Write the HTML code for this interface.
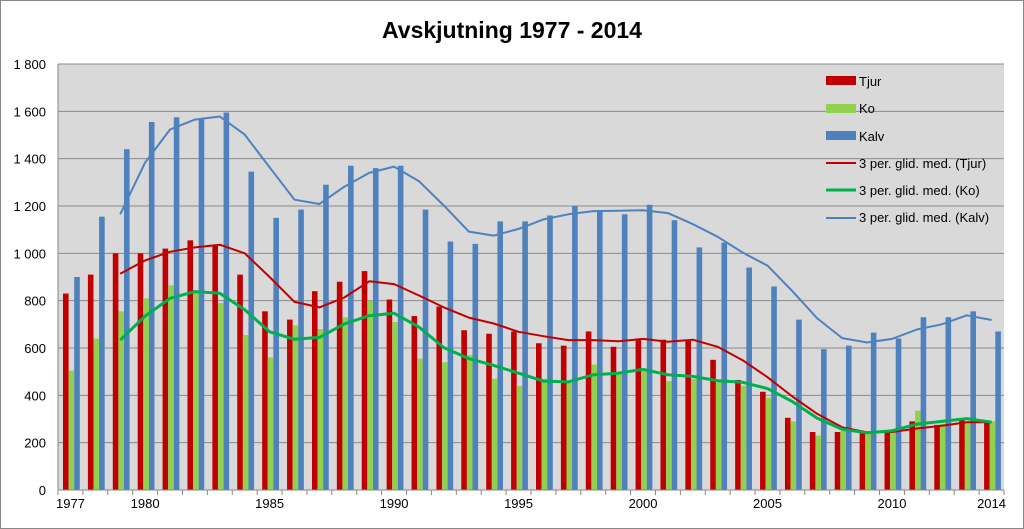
<!DOCTYPE html>
<html><head><meta charset="utf-8"><style>
body{margin:0;background:#fff;font-family:"Liberation Sans",sans-serif}
svg{display:block}
</style></head><body>
<svg width="1024" height="529" viewBox="0 0 1024 529" xmlns="http://www.w3.org/2000/svg" id="chart">
<rect x="0.5" y="0.5" width="1023" height="528" fill="#fff" stroke="#888"/>
<text x="512" y="38" text-anchor="middle" font-size="23" font-weight="bold" fill="#000">Avskjutning 1977 - 2014</text>
<rect x="58" y="64" width="946" height="426" fill="#d9d9d9"/>
<g id="grid"></g><g id="bars"></g><g id="lines"></g><g id="axes"></g>
<g font-size="13" fill="#000">
<rect x="826" y="76" width="30" height="9" fill="#c00000"/>
<text x="859" y="86">Tjur</text>
<rect x="826" y="104" width="30" height="9" fill="#92d050"/>
<text x="859" y="113">Ko</text>
<rect x="826" y="131" width="30" height="9" fill="#4f81bd"/>
<text x="859" y="141">Kalv</text>
<line x1="826" y1="163" x2="856" y2="163" stroke="#c00000" stroke-width="2"/>
<text x="859" y="168">3 per. glid. med. (Tjur)</text>
<line x1="826" y1="190" x2="856" y2="190" stroke="#00b050" stroke-width="3"/>
<text x="859" y="195">3 per. glid. med. (Ko)</text>
<line x1="826" y1="218" x2="856" y2="218" stroke="#4f81bd" stroke-width="2"/>
<text x="859" y="222">3 per. glid. med. (Kalv)</text>
</g>
</svg>
<script>
const years=[1977,1978,1979,1980,1981,1982,1983,1984,1985,1986,1987,1988,1989,1990,1991,1992,1993,1994,1995,1996,1997,1998,1999,2000,2001,2002,2003,2004,2005,2006,2007,2008,2009,2010,2011,2012,2013,2014];
const tjur=[830,910,1000,1000,1020,1055,1035,910,755,720,840,880,925,805,735,775,675,660,670,620,610,670,605,640,635,630,550,465,415,305,245,245,240,250,290,275,295,290];
const ko=[505,640,755,810,865,840,790,655,560,695,680,730,800,710,555,540,570,470,440,470,460,530,490,510,460,470,455,440,390,290,230,250,245,255,335,280,290,290];
const kalv=[900,1155,1440,1555,1575,1565,1595,1345,1150,1185,1290,1370,1360,1370,1185,1050,1040,1135,1135,1160,1200,1175,1165,1205,1140,1025,1045,940,860,720,595,610,665,640,730,730,755,670];
const yTicks=[0,200,400,600,800,1000,1200,1400,1600,1800];
const yTickLabels=["0","200","400","600","800","1 000","1 200","1 400","1 600","1 800"];
const xLabelYears=[1977,1980,1985,1990,1995,2000,2005,2010,2014];
const NS="http://www.w3.org/2000/svg";
const L=58,R=1004,T=64,B=490,maxV=1800;
const gw=(R-L)/years.length;
const y=v=>B-(v/maxV)*(B-T);
const xg=i=>L+i*gw;
function mk(tag,attrs,parent){const e=document.createElementNS(NS,tag);for(const k in attrs)e.setAttribute(k,attrs[k]);parent.appendChild(e);return e;}
const grid=document.getElementById('grid'),bars=document.getElementById('bars'),lines=document.getElementById('lines'),axes=document.getElementById('axes');
yTicks.forEach((t,i)=>{
 if(t>0){const g=mk('line',{x1:L,x2:R,y1:y(t),y2:y(t),stroke:'#8a8a8a','stroke-width':1},grid);
 
 }
 const tx=mk('text',{x:L-12,y:y(t)+5,'text-anchor':'end','font-size':13,fill:'#000'},axes);
 tx.textContent=yTickLabels[i];
 
 
});
const series=[[tjur,'#c00000','tjur'],[ko,'#92d050','ko'],[kalv,'#4f81bd','kalv']];
const bw=5.6,off=5;
years.forEach((yr,i)=>{
 series.forEach((s,j)=>{
  const v=s[0][i];
  const r=mk('rect',{x:xg(i)+off+j*bw,y:y(v),width:bw,height:B-y(v),fill:s[1]},bars);
  
  
 });
});
const maStyles=[['#c00000',2],['#00b050',3],['#4f81bd',2]];
series.forEach((s,j)=>{
 const pts=[];
 for(let i=2;i<years.length;i++){const m=(s[0][i]+s[0][i-1]+s[0][i-2])/3;pts.push((xg(i)+gw/2).toFixed(1)+','+y(m).toFixed(1));}
 const p=mk('polyline',{points:pts.join(' '),fill:'none',stroke:maStyles[j][0],'stroke-width':maStyles[j][1],'stroke-linejoin':'round'},lines);
 
 
});
const ax=mk('line',{x1:L,x2:R,y1:B,y2:B,stroke:'#888'},axes);


const ay=mk('line',{x1:L,x2:L,y1:T,y2:B,stroke:'#888'},axes);


for(let i=0;i<=years.length;i++){
 const t=mk('line',{x1:xg(i),x2:xg(i),y1:B,y2:B+5,stroke:'#888'},axes);
 
 
}
xLabelYears.forEach(yr=>{
 const i=years.indexOf(yr);
 const tx=mk('text',{x:xg(i)+gw/2,y:B+18,'text-anchor':'middle','font-size':13,fill:'#000'},axes);
 tx.textContent=yr;
 
 
});
</script>
</body></html>
